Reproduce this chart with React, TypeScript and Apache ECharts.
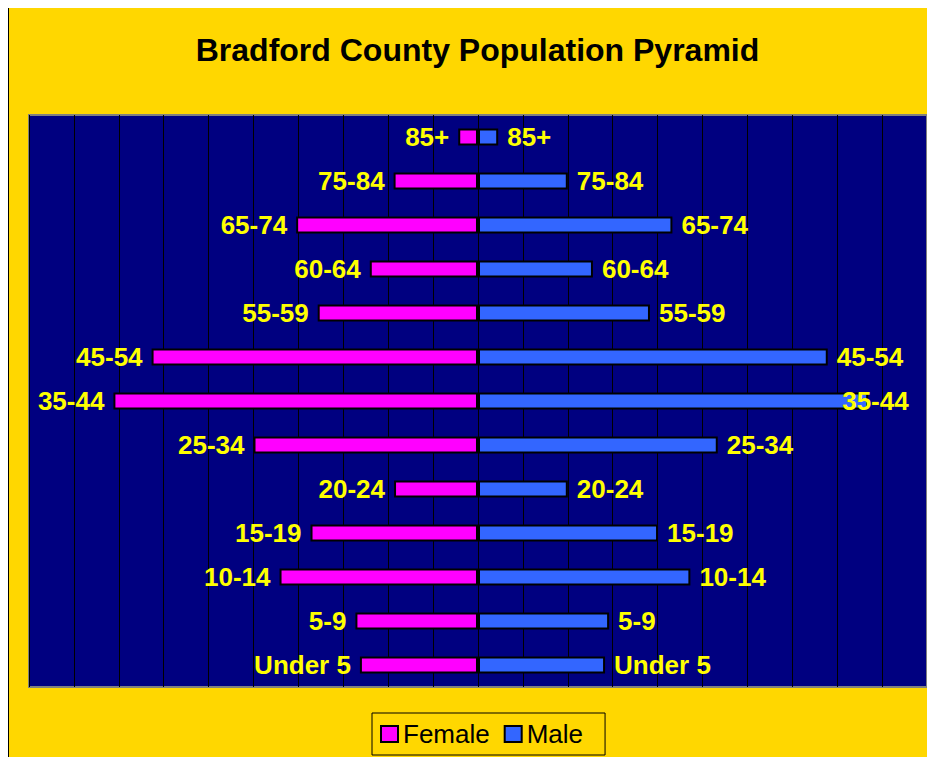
import React, { useEffect, useRef } from "react";
import * as echarts from "echarts";

const ageGroups = ["Under 5", "5-9", "10-14", "15-19", "20-24", "25-34", "35-44", "45-54", "55-59", "60-64", "65-74", "75-84", "85+"];
const femalePct = [2.63, 2.73, 4.42, 3.73, 1.87, 5.0, 8.12, 7.27, 3.57, 2.41, 4.05, 1.88, 0.44];
const malePct = [2.83, 2.92, 4.73, 4.01, 2.0, 5.34, 8.69, 7.79, 3.83, 2.56, 4.33, 2.0, 0.45];
const axisMin = -10;
const axisMax = 10;
const axisStep = 1;

export default function App() {
  const ref = useRef<HTMLDivElement>(null);
  useEffect(() => {
    document.body.style.overflow = "hidden";
    document.documentElement.style.overflow = "hidden";
    const chart = echarts.init(ref.current!, null, { renderer: "svg" });
    const labelBase = {
      show: true,
      formatter: "{b}",
      color: "#FFFF00",
      fontWeight: "bold" as const,
      fontSize: 26,
      fontFamily: "Liberation Sans, Arial, sans-serif",
      distance: 9,
    };
    chart.setOption({
      animation: false,
      backgroundColor: "#FFD700",
      title: {
        text: "Bradford County Population Pyramid",
        left: "center",
        top: 21,
        textStyle: {
          color: "#000",
          fontWeight: "bold",
          fontSize: 32,
          fontFamily: "Liberation Sans, Arial, sans-serif",
        },
      },
      legend: {
        data: ["Female", "Male"],
        left: 363,
        top: 705,
        orient: "horizontal",
        itemWidth: 17,
        itemHeight: 16,
        itemGap: 14,
        icon: "rect",
        borderColor: "#000",
        borderWidth: 1,
        padding: [8, 22, 8, 8],
        textStyle: {
          color: "#000",
          fontSize: 26,
          fontFamily: "Liberation Sans, Arial, sans-serif",
        },
      },
      grid: {
        left: 20,
        top: 107,
        width: 898,
        height: 572,
        show: true,
        backgroundColor: "#000080",
        borderColor: "#808080",
        borderWidth: 2,
        containLabel: false,
      },
      xAxis: {
        type: "value",
        min: axisMin,
        max: axisMax,
        interval: axisStep,
        axisLabel: { show: false },
        axisLine: { show: false },
        axisTick: { show: false },
        splitLine: { show: true, lineStyle: { color: "#000", width: 1 } },
      },
      yAxis: {
        type: "category",
        data: ageGroups,
        axisLabel: { show: false },
        axisLine: { show: false },
        axisTick: { show: false },
        splitLine: { show: false },
      },
      series: [
        {
          name: "Female",
          type: "bar",
          stack: "pop",
          barWidth: 17,
          data: femalePct.map((v) => -v),
          itemStyle: { color: "#FF00FF", borderColor: "#000", borderWidth: 2 },
          label: { ...labelBase, position: "left" },
        },
        {
          name: "Male",
          type: "bar",
          stack: "pop",
          barWidth: 17,
          data: malePct.map((v, i) =>
            ageGroups[i] === "35-44" ? { value: v, label: { offset: [-35, 0] } } : v
          ),
          itemStyle: { color: "#3366FF", borderColor: "#000", borderWidth: 2 },
          label: { ...labelBase, position: "right" },
        },
      ],
    });
    return () => chart.dispose();
  }, []);
  return (
    <div style={{ border: "1px solid #000", width: 937, height: 760, marginTop: -1 }}>
      <div ref={ref} style={{ width: 937, height: 760 }} />
    </div>
  );
}
